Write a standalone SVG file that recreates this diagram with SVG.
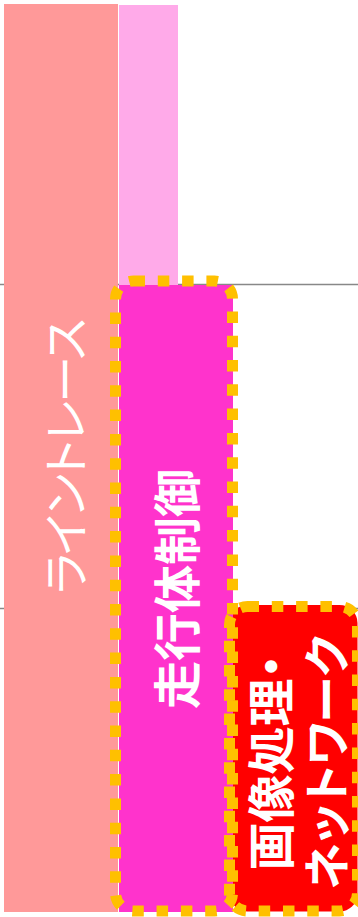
<svg xmlns="http://www.w3.org/2000/svg" width="358" height="917" viewBox="0 0 358 917">
<style>
.grid{stroke:#888888;stroke-width:1.6;fill:none}
.dot{fill:none;stroke:#FFC000;stroke-width:11;stroke-dasharray:11.5 12.8}
.lbl{font-family:"Noto Sans CJK JP","Noto Sans CJK SC",sans-serif;fill:#FFFFFF;text-anchor:middle;dominant-baseline:central;font-feature-settings:"palt" 1}
.bold{font-weight:bold}
</style>
<rect width="358" height="917" fill="#FFFFFF"/>
<g id="grid">
<line class="grid" x1="0" y1="284.5" x2="358" y2="284.5"/>
<line class="grid" x1="0" y1="608.5" x2="358" y2="608.5"/>
</g>
<g id="image-network-fill">
<rect x="229.5" y="605" width="128" height="306.5" rx="18" fill="#FF0000"/>
</g>
<g id="line-trace">
<rect x="4" y="4" width="114" height="908" fill="#FF9999"/>
<text class="lbl" font-size="47" letter-spacing="-2" transform="translate(62,457) rotate(-90)">ライントレース</text>
</g>
<g id="pink-bar">
<rect x="119" y="5" width="59" height="280" fill="#FFAAE9"/>
</g>
<g id="vehicle-control">
<rect x="119" y="285" width="114" height="627" fill="#FF33CC"/>
<rect class="dot" x="115.5" y="281" width="117" height="630" rx="18"/>
<text class="lbl bold" font-size="48" transform="translate(174,589) rotate(-90)">走行体制御</text>
</g>
<g id="image-network">
<rect class="dot" x="229.5" y="606.5" width="128" height="304.5" rx="18"/>
<text class="lbl bold" font-size="48" transform="translate(267.5,762.5) rotate(-90)">画像処理・</text>
<text class="lbl bold" font-size="47" letter-spacing="-0.5" transform="translate(323,762.5) rotate(-90)">ネットワーク</text>
</g>
<g id="connectors"></g>
</svg>
